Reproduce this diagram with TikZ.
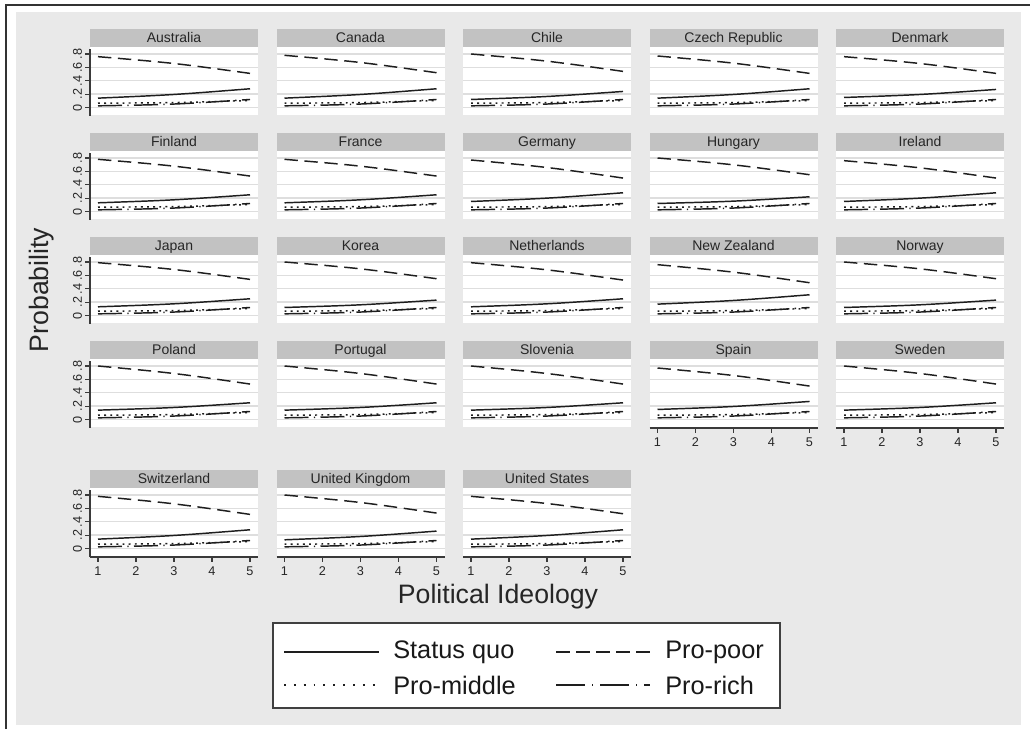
\documentclass[tikz,border=0pt]{standalone}
\usepackage{fontspec}
\setmainfont{Liberation Sans}
\definecolor{bgc}{HTML}{E9E9E9}
\definecolor{hdr}{HTML}{C2C2C2}
\definecolor{grd}{HTML}{DEDEDE}
\definecolor{ln}{HTML}{1E1E1E}
\definecolor{axc}{HTML}{3A3A3A}
\tikzset{
  sqline/.style={ln, line width=1.1pt},
  ppline/.style={ln, line width=1.1pt, dash pattern=on 10pt off 5pt},
  pmline/.style={ln, line width=1.1pt, dash pattern=on 1.4pt off 3.2pt},
  prline/.style={ln, line width=1.1pt, dash pattern=on 18pt off 4pt on 1pt off 4pt},
  hdrtext/.style={font=\fontsize{10.5}{12}\selectfont, text=black!85, anchor=base, inner sep=0pt},
  ticklab/.style={font=\fontsize{9.5}{10}\selectfont, text=black!85, inner sep=0pt},
  axline/.style={axc, line width=0.9pt},
  titletext/.style={font=\fontsize{20}{22}\selectfont, text=black!85},
  legtext/.style={font=\fontsize{19}{22}\selectfont, text=black!90, anchor=west, inner sep=0pt},
}
% #1 id, #2 title, #3 x, #4 y, #5 pp at 1, #6 pp at 5, #7 sq at 1, #8 sq at 5
\newcommand\drawpanel[8]{%
  \begin{scope}[shift={(#3,#4)}]
    \fill[hdr] (0,0) rectangle (168,18);
    \node[hdrtext] (t#1) at (84,13.5) {#2};
    \fill[white] (0,18) rectangle (168,86);
    \foreach \v in {0,0.2,0.4,0.6,0.8}
      \draw[grd, line width=1.1pt] (0,{78.5-66.9*\v}) -- (168,{78.5-66.9*\v});
    \begin{scope}[shift={(-30,78.5)}, x=28.5pt, y=50.175pt]
      \draw[ppline] (1,#5) .. controls (3,{(#5+#6)/2+0.03}) .. (5,#6);
      \draw[sqline] (1,#7) .. controls (3,{(#7+#8)/2-0.02}) .. (5,#8);
      \draw[pmline] (1,0.065) .. controls (3,0.07) .. (5,0.105);
      \draw[prline] (1,0.025) .. controls (3,0.045) .. (5,0.12);
    \end{scope}
  \end{scope}}
% y axis: #1 id, #2 x, #3 y
\newcommand\drawyaxis[3]{%
  \begin{scope}[shift={(#2,#3)}]
    \draw[axline] (0,20) -- (0,87);
    \foreach \v/\l [count=\i] in {0/0,0.2/.2,0.4/.4,0.6/.6,0.8/.8}{
      \draw[axline] (-5,{78.5-66.9*\v}) -- (0,{78.5-66.9*\v});
      \node[ticklab, rotate=90] (y#1\i) at (-12.5,{78.5-66.9*\v}) {\l};
    }
  \end{scope}}
% x axis: #1 id, #2 x, #3 y
\newcommand\drawxaxis[3]{%
  \begin{scope}[shift={(#2,#3)}]
    \draw[axline] (0,87) -- (168,87);
    \foreach \k in {1,...,5}{
      \draw[axline] ({8+38*(\k-1)},87) -- ({8+38*(\k-1)},92);
      \node[ticklab] (x#1\k) at ({8+38*(\k-1)},101.5) {\k};
    }
  \end{scope}}
\begin{document}
\begin{tikzpicture}[x=0.75pt, y=-0.75pt]
  \useasboundingbox (0,0) rectangle (1030,729);
  \fill[white] (0,0) rectangle (1030,729);
  \fill[bgc] (16,12) rectangle (1021,725);
  \draw[black!80, line width=1.3pt] (6,729) -- (6,5) -- (1030,5);
  % row 1
  \drawpanel{a}{Australia}{90}{29}{0.76}{0.51}{0.14}{0.28}
  \drawpanel{b}{Canada}{276.5}{29}{0.78}{0.52}{0.14}{0.28}
  \drawpanel{c}{Chile}{463}{29}{0.80}{0.54}{0.12}{0.24}
  \drawpanel{d}{Czech Republic}{649.5}{29}{0.77}{0.51}{0.14}{0.28}
  \drawpanel{e}{Denmark}{836}{29}{0.76}{0.51}{0.15}{0.27}
  % row 2
  \drawpanel{f}{Finland}{90}{133}{0.78}{0.53}{0.13}{0.25}
  \drawpanel{g}{France}{276.5}{133}{0.78}{0.53}{0.13}{0.25}
  \drawpanel{h}{Germany}{463}{133}{0.77}{0.50}{0.15}{0.28}
  \drawpanel{i}{Hungary}{649.5}{133}{0.80}{0.55}{0.12}{0.22}
  \drawpanel{j}{Ireland}{836}{133}{0.76}{0.50}{0.15}{0.28}
  % row 3
  \drawpanel{k}{Japan}{90}{237}{0.79}{0.54}{0.13}{0.25}
  \drawpanel{l}{Korea}{276.5}{237}{0.80}{0.55}{0.12}{0.23}
  \drawpanel{m}{Netherlands}{463}{237}{0.79}{0.53}{0.13}{0.25}
  \drawpanel{n}{New Zealand}{649.5}{237}{0.76}{0.49}{0.17}{0.31}
  \drawpanel{o}{Norway}{836}{237}{0.80}{0.55}{0.12}{0.23}
  % row 4
  \drawpanel{p}{Poland}{90}{341}{0.80}{0.53}{0.14}{0.25}
  \drawpanel{q}{Portugal}{276.5}{341}{0.80}{0.53}{0.14}{0.25}
  \drawpanel{r}{Slovenia}{463}{341}{0.80}{0.53}{0.14}{0.25}
  \drawpanel{s}{Spain}{649.5}{341}{0.77}{0.50}{0.15}{0.27}
  \drawpanel{t}{Sweden}{836}{341}{0.80}{0.53}{0.14}{0.25}
  % row 5
  \drawpanel{u}{Switzerland}{90}{470}{0.78}{0.51}{0.14}{0.28}
  \drawpanel{v}{United Kingdom}{276.5}{470}{0.80}{0.53}{0.13}{0.26}
  \drawpanel{w}{United States}{463}{470}{0.78}{0.52}{0.14}{0.28}
  % axes
  \drawyaxis{a}{90}{29}
  \drawyaxis{f}{90}{133}
  \drawyaxis{k}{90}{237}
  \drawyaxis{p}{90}{341}
  \drawyaxis{u}{90}{470}
  \drawxaxis{s}{649.5}{341}
  \drawxaxis{t}{836}{341}
  \drawxaxis{u}{90}{470}
  \drawxaxis{v}{276.5}{470}
  \drawxaxis{w}{463}{470}
  % axis titles
  \node[titletext, rotate=90] (ytitle) at (42,290) {Probability};
  \node[titletext] (xtitle) at (498,597) {Political Ideology};
  % legend
  \node[draw=black!75, line width=0.8pt, fill=white, minimum width=380.25pt, minimum height=63.75pt, inner sep=0pt] (legbox) at (526.5,665.5) {};
  \coordinate (l1a) at (284,652); \coordinate (l1b) at (379,652);
  \coordinate (l2a) at (284,685); \coordinate (l2b) at (379,685);
  \coordinate (r1a) at (556,652); \coordinate (r1b) at (650,652);
  \coordinate (r2a) at (556,685); \coordinate (r2b) at (650,685);
  \draw[ln, line width=1.6pt] (l1a) -- (l1b);
  \draw[ln, line width=1.2pt, dash pattern=on 1.4pt off 6pt] (l2a) -- (l2b);
  \draw[ln, line width=1.6pt, dash pattern=on 10.5pt off 4.5pt] (r1a) -- (r1b);
  \draw[ln, line width=1.6pt, dash pattern=on 22pt off 5pt on 1pt off 5pt] (r2a) -- (r2b);
  \node[legtext] (lsq) at (393,652) {Status quo};
  \node[legtext] (lpm) at (393,685) {Pro-middle};
  \node[legtext] (lpp) at (665,652) {Pro-poor};
  \node[legtext] (lpr) at (665,685) {Pro-rich};
\end{tikzpicture}
\end{document}
